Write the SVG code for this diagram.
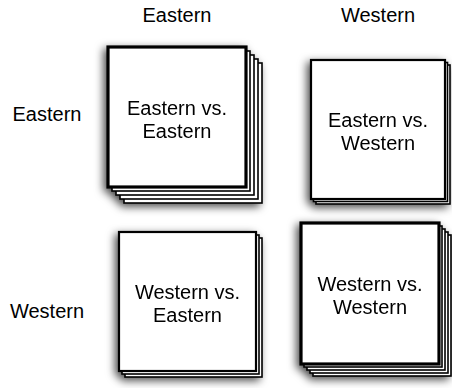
<svg xmlns="http://www.w3.org/2000/svg" width="452" height="388" viewBox="0 0 452 388">
  <defs>
    <filter id="shadow" x="-25%" y="-25%" width="150%" height="150%">
      <feDropShadow dx="-3" dy="3" stdDeviation="4.5" flood-color="#000" flood-opacity="0.7"/>
    </filter>
  </defs>
  <style>
    .lbl { font-family: "Liberation Sans", Arial, Helvetica, sans-serif; font-size: 20px; fill: #000; text-anchor: middle; }
    .sheet { fill: #fff; stroke: #000; stroke-width: 1.6; }
    .front { fill: #fff; stroke: #000; stroke-width: 2.2; }
    .front.bold { stroke-width: 3.2; }
  </style>

  <rect width="452" height="388" fill="#fff"/>

  <!-- column headers -->
  <text class="lbl" x="177" y="22">Eastern</text>
  <text class="lbl" x="378" y="22">Western</text>

  <!-- row headers -->
  <text class="lbl" x="47" y="121">Eastern</text>
  <text class="lbl" x="47" y="318">Western</text>

  <g id="eastern-vs-eastern" filter="url(#shadow)">
    <rect class="sheet" x="124" y="63" width="138" height="140"/>
    <rect class="sheet" x="120" y="59" width="138" height="140"/>
    <rect class="sheet" x="116" y="55" width="138" height="140"/>
    <rect class="sheet" x="112" y="51" width="138" height="140"/>
    <rect class="front bold" x="108" y="47" width="138" height="140"/>
    <text class="lbl" x="177" y="115">Eastern vs.</text>
    <text class="lbl" x="177" y="138">Eastern</text>
  </g>

  <g id="eastern-vs-western" filter="url(#shadow)">
    <rect class="sheet" x="316" y="65" width="134" height="139"/>
    <rect class="sheet" x="313.5" y="62.5" width="134" height="139"/>
    <rect class="front" x="311" y="60" width="134" height="139"/>
    <text class="lbl" x="378" y="127">Eastern vs.</text>
    <text class="lbl" x="378" y="150">Western</text>
  </g>

  <g id="western-vs-eastern" filter="url(#shadow)">
    <rect class="sheet" x="125" y="238" width="137" height="139"/>
    <rect class="sheet" x="122" y="235" width="137" height="139"/>
    <rect class="front" x="119" y="232" width="137" height="139"/>
    <text class="lbl" x="187.5" y="299">Western vs.</text>
    <text class="lbl" x="187.5" y="322">Eastern</text>
  </g>

  <g id="western-vs-western" filter="url(#shadow)">
    <rect class="sheet" x="313" y="235" width="138" height="141"/>
    <rect class="sheet" x="310" y="232" width="138" height="141"/>
    <rect class="sheet" x="307" y="229" width="138" height="141"/>
    <rect class="sheet" x="304" y="226" width="138" height="141"/>
    <rect class="front bold" x="301" y="223" width="138" height="141"/>
    <text class="lbl" x="370" y="291">Western vs.</text>
    <text class="lbl" x="370" y="314">Western</text>
  </g>

  <!-- no connectors in this matrix -->
  <g id="connectors"/>
</svg>
